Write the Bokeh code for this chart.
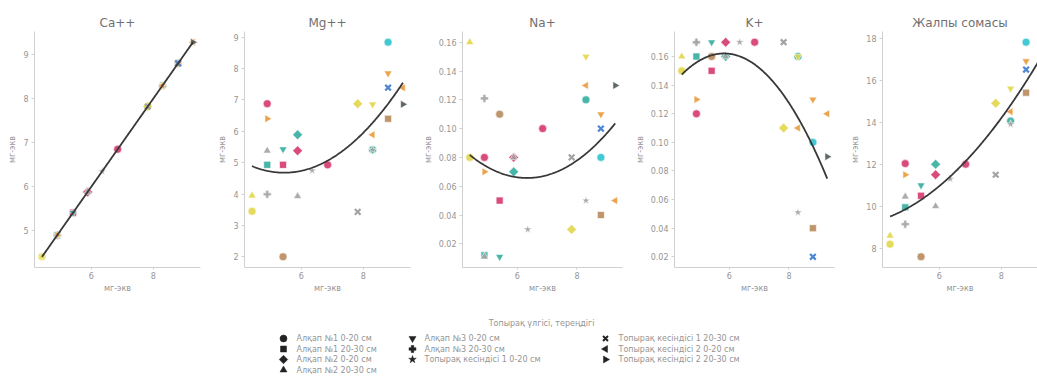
import numpy as np
from bokeh.plotting import figure
from bokeh.layouts import column, row
from bokeh.models import Range1d, SingleIntervalTicker, ColumnDataSource, PrintfTickFormatter
from bokeh.core.properties import value
from bokeh.embed import file_html
from bokeh.resources import INLINE

FONT = "DejaVu Sans"

# ---------------- data ----------------
panel_titles = ["Ca++", "Mg++", "Na+", "K+", "Жалпы сомасы"]
axis_label = "мг-экв"
legend_title = "Топырақ үлгісі, тереңдігі"
sites = [
    "Алқап №1 0-20 см",
    "Алқап №1 20-30 см",
    "Алқап №2 0-20 см",
    "Алқап №2 20-30 см",
    "Алқап №3 0-20 см",
    "Алқап №3 20-30 см",
    "Топырақ кесіндісі 1 0-20 см",
    "Топырақ кесіндісі 1 20-30 см",
    "Топырақ кесіндісі 2 0-20 см",
    "Топырақ кесіндісі 2 20-30 см",
]

ca = [4.41, 4.41, 4.90, 4.90, 4.90, 4.90, 4.90, 5.41, 5.41, 5.41, 5.88, 5.88, 5.88, 6.35,
      6.85, 7.82, 7.82, 8.30, 8.30, 8.30, 8.30, 8.80, 8.80, 8.80, 8.80, 9.28, 9.28]
mg = [3.95, 3.45, 6.88, 6.40, 5.38, 4.93, 3.99, 5.43, 4.93, 2.00, 5.89, 5.38, 3.93, 4.75,
      4.93, 6.88, 3.43, 6.86, 5.89, 5.41, 5.41, 8.84, 7.85, 7.39, 6.40, 7.39, 6.86]
na = [0.160, 0.080, 0.080, 0.070, 0.011, 0.012, 0.121, 0.011, 0.050, 0.110, 0.070, 0.080, 0.080, 0.030,
      0.100, 0.030, 0.080, 0.150, 0.130, 0.120, 0.050, 0.080, 0.110, 0.100, 0.040, 0.050, 0.130]
k = [0.160, 0.150, 0.120, 0.130, 0.170, 0.160, 0.170, 0.170, 0.150, 0.160, 0.160, 0.170, 0.160, 0.170,
     0.170, 0.110, 0.170, 0.160, 0.110, 0.160, 0.051, 0.100, 0.130, 0.020, 0.040, 0.120, 0.090]
total = [8.60, 8.20, 12.03, 11.50, 10.46, 9.95, 9.15, 11.00, 10.50, 7.60, 12.00, 11.50, 10.00, 11.30,
         12.00, 14.90, 11.50, 15.60, 14.50, 14.05, 13.90, 17.80, 16.90, 16.50, 15.40, 16.84, 16.36]
site_of_point = [3, 0, 0, 9, 3, 1, 5, 4, 1, 0, 2, 2, 3, 6,
                 0, 2, 7, 4, 8, 0, 6, 0, 4, 7, 1, 8, 9]
hue_of_point = ["yellow", "yellow", "red", "orange", "gray", "teal", "gray", "teal", "red", "brown",
                "teal", "red", "gray", "gray", "red", "yellow", "gray", "yellow", "orange", "teal",
                "gray", "cyan", "orange", "blue", "brown", "orange", "dark"]

# ---------------- styles ----------------
palette = {"yellow": "#e2d64a", "red": "#d4376b", "orange": "#e99a3a", "gray": "#a3a3a3",
           "teal": "#33ad9f", "brown": "#b8895c", "cyan": "#2ec3cf", "blue": "#4d86d4",
           "dark": "#4d5757"}
# marker, angle, size for each site
site_marker = [("circle", 0, 8), ("square", 0, 7), ("square", np.pi / 4, 7), ("triangle", 0, 8),
               ("inverted_triangle", 0, 8), ("plus", 0, 8), ("star", 0, 9), ("x", 0, 8),
               ("triangle", np.pi / 2, 8), ("triangle", -np.pi / 2, 8)]

series = [ca, mg, na, k, total]
y_intervals = [1, 1, 0.02, 0.02, 2]
y_formats = [None, None, "%.2f", "%.2f", None]

fig_widths = [208, 212, 212, 214, 191]
left_borders = [34, 36, 36, 36, 36]
frame_w = 166
FIG_H = 300
TOP = 31
BOTTOM = 33
TXT = "#959595"

x_arr = np.array(ca, dtype=float)
xmin, xmax = x_arr.min(), x_arr.max()
xpad = 0.05 * (xmax - xmin)
x_start, x_end = xmin - xpad, xmax + xpad

figs = []
for i, (title, ys) in enumerate(zip(panel_titles, series)):
    y_arr = np.array(ys, dtype=float)
    coef = np.polyfit(x_arr, y_arr, 2)
    xf = np.linspace(xmin, xmax, 200)
    yf = np.polyval(coef, xf)
    lo = min(y_arr.min(), yf.min())
    hi = max(y_arr.max(), yf.max())
    ypad = 0.05 * (hi - lo)

    w = fig_widths[i]
    right_border = w - left_borders[i] - frame_w
    this_end = x_end
    if right_border < 0:
        avail = w - left_borders[i]
        this_end = x_start + (x_end - x_start) * avail / frame_w
        right_border = 0

    p = figure(width=w, height=FIG_H, title=title,
               x_range=Range1d(x_start, this_end), y_range=Range1d(lo - ypad, hi + ypad),
               toolbar_location=None, output_backend="svg",
               min_border_left=left_borders[i], min_border_right=right_border,
               min_border_top=TOP, min_border_bottom=BOTTOM)
    p.outline_line_color = None
    p.xgrid.visible = False
    p.ygrid.visible = False
    p.background_fill_color = "white"
    p.border_fill_color = "white"

    p.title.align = "center"
    p.title.text_font = FONT
    p.title.text_font_size = "12px"
    p.title.text_font_style = "normal"
    p.title.text_color = "#707070"
    p.title.standoff = 3

    p.xaxis.ticker = SingleIntervalTicker(interval=2)
    p.yaxis.ticker = SingleIntervalTicker(interval=y_intervals[i])
    if y_formats[i]:
        p.yaxis.formatter = PrintfTickFormatter(format=y_formats[i])
    p.xaxis.axis_label = axis_label
    p.yaxis.axis_label = axis_label
    for ax in p.axis:
        ax.axis_line_color = "#d0d0d0"
        ax.major_tick_line_color = "#d0d0d0"
        ax.minor_tick_line_color = None
        ax.major_tick_out = 3
        ax.major_tick_in = 0
        ax.major_label_text_font = FONT
        ax.major_label_text_font_size = "8px"
        ax.major_label_text_color = TXT
        ax.axis_label_text_font = FONT
        ax.axis_label_text_font_size = "8px"
        ax.axis_label_text_color = TXT
        ax.axis_label_text_font_style = "normal"
        ax.axis_label_standoff = 3
        ax.major_label_standoff = 2
    p.xaxis.major_tick_out = 2
    p.xaxis.major_label_standoff = 0
    p.xaxis.axis_label_standoff = 2

    for s, (mk, ang, sz) in enumerate(site_marker):
        idx = [j for j, g in enumerate(site_of_point) if g == s]
        if not idx:
            continue
        src = ColumnDataSource(dict(
            x=[ca[j] for j in idx], y=[ys[j] for j in idx],
            c=[palette[hue_of_point[j]] for j in idx]))
        if mk == "x":
            p.scatter("x", "y", source=src, marker="x", size=sz, line_color="c", line_width=2.2)
        else:
            p.scatter("x", "y", source=src, marker=mk, angle=ang, size=sz, fill_color="c",
                      line_color="white", line_width=0.6, fill_alpha=0.9)

    p.line(xf, yf, line_color="#383838", line_width=1.8)
    figs.append(p)

# ---------------- legend ----------------
leg = figure(width=1037, height=79, x_range=Range1d(0, 1037), y_range=Range1d(79, 0),
             toolbar_location=None, output_backend="svg", min_border=0,
             x_axis_type=None, y_axis_type=None)
leg.outline_line_color = None
leg.xgrid.visible = False
leg.ygrid.visible = False

col_marker_x = [283, 412, 605]
col_text_x = [296, 424, 618]
row_y = [38, 48.5, 59, 69.5]
leg_slots = [(0, 0), (0, 1), (0, 2), (0, 3), (1, 0), (1, 1), (1, 2), (2, 0), (2, 1), (2, 2)]

leg.text(x=[541], y=[23], text=[legend_title], text_font=value(FONT), text_font_size="8px",
         text_color=TXT, text_align="center", text_baseline="middle")
for s, (mk, ang, sz) in enumerate(site_marker):
    c, r = leg_slots[s]
    mx, my = col_marker_x[c], row_y[r]
    if mk == "x":
        leg.scatter([mx], [my], marker="x", size=7, line_color="#222222", line_width=2)
    else:
        leg.scatter([mx], [my], marker=mk, angle=ang, size=sz - 1,
                    fill_color="#222222", line_color="#222222", line_width=0.5)
    leg.text(x=[col_text_x[c]], y=[my], text=[sites[s]], text_font=value(FONT),
             text_font_size="8px", text_color=TXT, text_align="left",
             text_baseline="middle")

layout = column(row(*figs, spacing=0), leg, spacing=0)
open("out.html", "w").write(file_html(layout, INLINE))
